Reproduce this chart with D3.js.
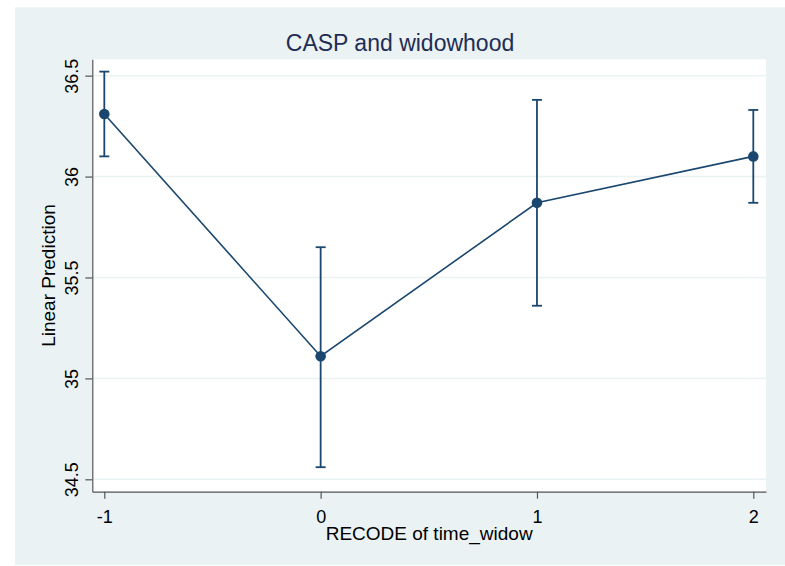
<!DOCTYPE html>
<html>
<head>
<meta charset="utf-8">
<script src="https://cdn.jsdelivr.net/npm/d3@7"></script>
<style>
    body { margin: 0; background: #fff; }
    svg { display: block; font-family: "Liberation Sans", Arial, sans-serif; }
</style>
</head>
<body>
<div id="chart"></div>
<script>
    // values
    const categories = [-1, 0, 1, 2];
    const predictions = [36.31, 35.11, 35.87, 36.10];
    const ciLower = [36.10, 34.56, 35.36, 35.87];
    const ciUpper = [36.52, 35.65, 36.38, 36.33];
    const yTicks = [34.5, 35, 35.5, 36, 36.5];
    const yTickLabels = ['34.5', '35', '35.5', '36', '36.5'];
    const xTickLabels = ['-1', '0', '1', '2'];

    const W = 785, H = 566;
    const margin = { top: 59.3, right: 19, bottom: 74.3, left: 92.3 };
    const width = W - margin.left - margin.right;
    const height = H - margin.top - margin.bottom;

    const navy = '#1a476f';
    const gridColor = '#eaf2f3';

    const data = categories.map((c, i) => ({
        x: c, y: predictions[i], lo: ciLower[i], hi: ciUpper[i]
    }));

    const x = d3.scaleLinear().domain([-1.0555, 2.0587]).range([0, width]);
    const y = d3.scaleLinear().domain([34.4386, 36.581]).range([height, 0]);

    const svg = d3.select('#chart')
        .append('svg')
        .attr('width', W)
        .attr('height', H);

    // outer graph region
    svg.append('rect')
        .attr('x', 15).attr('y', 7.3)
        .attr('width', W - 15).attr('height', 565 - 7.3)
        .attr('fill', gridColor);

    const g = svg.append('g')
        .attr('transform', `translate(${margin.left}, ${margin.top})`);

    // plot region
    g.append('rect')
        .attr('width', width)
        .attr('height', height)
        .attr('fill', '#fff');

    // gridlines
    g.append('g')
        .selectAll('line')
        .data(yTicks)
        .enter()
        .append('line')
        .attr('x1', 0).attr('x2', width)
        .attr('y1', d => y(d)).attr('y2', d => y(d))
        .attr('stroke', gridColor)
        .attr('stroke-width', 1.5);

    // y axis
    const yAxis = g.append('g')
        .call(d3.axisLeft(y)
            .tickValues(yTicks)
            .tickFormat((d, i) => yTickLabels[i])
            .tickSize(7)
            .tickSizeOuter(0));
    yAxis.selectAll('text')
        .attr('x', 0)
        .attr('y', -14.3)
        .attr('dy', 0)
        .attr('text-anchor', 'middle')
        .attr('transform', 'rotate(-90)')
        .style('font-size', '18px')
        .style('fill', '#000');

    // x axis
    const xAxis = g.append('g')
        .attr('transform', `translate(0, ${height})`)
        .call(d3.axisBottom(x)
            .tickValues(categories)
            .tickFormat((d, i) => xTickLabels[i])
            .tickSize(7)
            .tickSizeOuter(0));
    xAxis.selectAll('text')
        .attr('y', 31)
        .attr('dy', 0)
        .style('font-size', '18px')
        .style('fill', '#000');

    svg.selectAll('.domain, .tick line')
        .attr('stroke', '#555')
        .attr('stroke-width', 1.2);

    // connecting line
    const line = d3.line()
        .x(d => x(d.x))
        .y(d => y(d.y));

    g.append('path')
        .datum(data)
        .attr('fill', 'none')
        .attr('stroke', navy)
        .attr('stroke-width', 1.6)
        .attr('d', line);

    // error bars
    const bars = g.append('g')
        .selectAll('g')
        .data(data)
        .enter()
        .append('g')
        .attr('stroke', navy)
        .attr('stroke-width', 1.8);

    bars.append('line')
        .attr('x1', d => x(d.x)).attr('x2', d => x(d.x))
        .attr('y1', d => y(d.lo)).attr('y2', d => y(d.hi));
    bars.append('line')
        .attr('x1', d => x(d.x) - 5).attr('x2', d => x(d.x) + 5)
        .attr('y1', d => y(d.lo)).attr('y2', d => y(d.lo));
    bars.append('line')
        .attr('x1', d => x(d.x) - 5).attr('x2', d => x(d.x) + 5)
        .attr('y1', d => y(d.hi)).attr('y2', d => y(d.hi));

    // markers
    g.append('g')
        .selectAll('circle')
        .data(data)
        .enter()
        .append('circle')
        .attr('cx', d => x(d.x))
        .attr('cy', d => y(d.y))
        .attr('r', 5.3)
        .attr('fill', navy);

    // titles
    svg.append('text')
        .attr('x', 400)
        .attr('y', 50.7)
        .attr('text-anchor', 'middle')
        .style('font-size', '23px')
        .style('fill', '#1f2d55')
        .text('CASP and widowhood');

    svg.append('text')
        .attr('x', margin.left + width / 2)
        .attr('y', 539.5)
        .attr('text-anchor', 'middle')
        .style('font-size', '19px')
        .style('fill', '#000')
        .text('RECODE of time_widow');

    svg.append('text')
        .attr('transform', `translate(55, ${margin.top + height / 2}) rotate(-90)`)
        .attr('text-anchor', 'middle')
        .style('font-size', '19px')
        .style('fill', '#000')
        .text('Linear Prediction');
</script>
</body>
</html>
